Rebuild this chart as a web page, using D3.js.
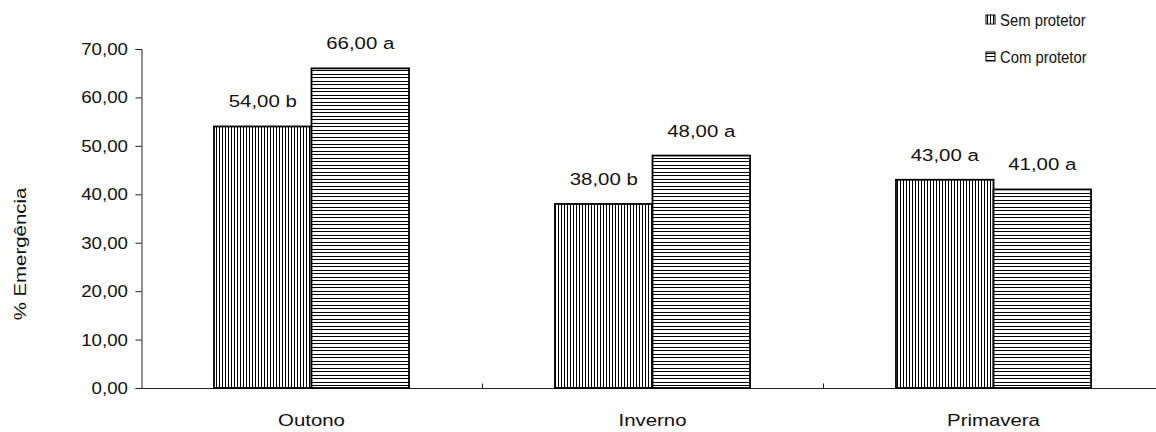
<!DOCTYPE html>
<html><head><meta charset="utf-8">
<script src="https://cdn.jsdelivr.net/npm/d3@7"></script>
<style>body{margin:0;background:#fff}svg{display:block}text{font-family:"Liberation Sans",Arial,sans-serif;fill:#111}</style>
</head><body><svg id="c" width="1156" height="432"></svg>
<script>
const categories = ["Outono", "Inverno", "Primavera"];
const seriesNames = ["Sem protetor", "Com protetor"];
const semProtetor = [54, 38, 43];
const comProtetor = [66, 48, 41];
const semLetters = ["b", "b", "a"];
const comLetters = ["a", "a", "a"];
const yTicks = [0, 10, 20, 30, 40, 50, 60, 70];
const yTitle = "% Emergência";

const svg = d3.select("#c");
const FS = 17, SX = 1.2;
const defs = svg.append("defs");
const pv = defs.append("pattern").attr("id","pv").attr("patternUnits","userSpaceOnUse").attr("width",3).attr("height",10);
pv.append("rect").attr("width",3).attr("height",10).attr("fill","#fff");
pv.append("rect").attr("x",0).attr("width",1).attr("height",10).attr("fill","#000");
const ph = defs.append("pattern").attr("id","ph").attr("patternUnits","userSpaceOnUse").attr("width",10).attr("height",7);
ph.append("rect").attr("width",10).attr("height",7).attr("fill","#fff");
ph.append("rect").attr("y",0).attr("width",10).attr("height",1).attr("fill","#000");
ph.append("rect").attr("y",4).attr("width",10).attr("height",1).attr("fill","#000");
const fills = ["url(#pv)","url(#ph)"];

const x = d3.scaleBand().domain(categories).range([141, 1164]).paddingInner(0.428).paddingOuter(0.214);
const xs = d3.scaleBand().domain(seriesNames).range([0, x.bandwidth()]).padding(0);
const y = d3.scaleLinear().domain([0, 70]).range([388, 49]);
const fmt = v => d3.format(".2f")(v).replace(".", ",");

function stext(g, tx, ty, str, anchor, fs, sx){
  return g.append("text").attr("transform",`translate(${tx},${ty}) scale(${sx||SX},1)`)
    .attr("text-anchor",anchor).attr("font-size",fs||FS).text(str);
}

// y axis
const ya = svg.append("g").attr("transform","translate(141.5,0)")
  .call(d3.axisLeft(y).tickValues(yTicks).tickSize(6).tickFormat(""));
ya.select(".domain").attr("stroke","#222");
ya.selectAll(".tick line").attr("stroke","#222");
yTicks.forEach(t => stext(svg, 128, y(t)+6, fmt(t), "end", 17, 1.1));

// x axis
const xa = svg.append("g").attr("transform","translate(0,388.5)");
xa.append("line").attr("x1",141).attr("x2",1164).attr("stroke","#222");
categories.forEach((c,i)=>{
  if(i>0){ const tx = Math.round(x(c) - x.step()*x.paddingInner()/2 )+0.5;
    xa.append("line").attr("x1",tx).attr("x2",tx).attr("y1",0).attr("y2",-5).attr("stroke","#222"); }
  stext(svg, x(c)+x.bandwidth()/2, 426, c, "middle");
});

// bars
const data = [semProtetor, comProtetor];
const letters = [semLetters, comLetters];
seriesNames.forEach((s,si)=>{
  categories.forEach((c,ci)=>{
    const v = data[si][ci];
    const bx = x(c) + xs(s);
    svg.append("rect").attr("x",bx).attr("y",y(v)).attr("width",xs.bandwidth()).attr("height",y(0)-y(v))
      .attr("fill",fills[si]).attr("stroke","#000").attr("stroke-width",1.8);
    stext(svg, bx + xs.bandwidth()/2, y(v)-19, fmt(v)+" "+letters[si][ci], "middle");
  });
});

// y title
svg.append("text").attr("transform","translate(26,254) rotate(-90) scale(1.2,1)").attr("text-anchor","middle")
  .attr("font-size",17).text(yTitle);

// legend
seriesNames.forEach((s,i)=>{
  const ly = 20 + i*37;
  svg.append("rect").attr("x",986).attr("y",ly-5).attr("width",9).attr("height",9)
    .attr("fill",fills[i]).attr("stroke","#000").attr("stroke-width",1);
  stext(svg, 1000, ly+6, s, "start", 16.5, 0.9);
});
</script></body></html>
